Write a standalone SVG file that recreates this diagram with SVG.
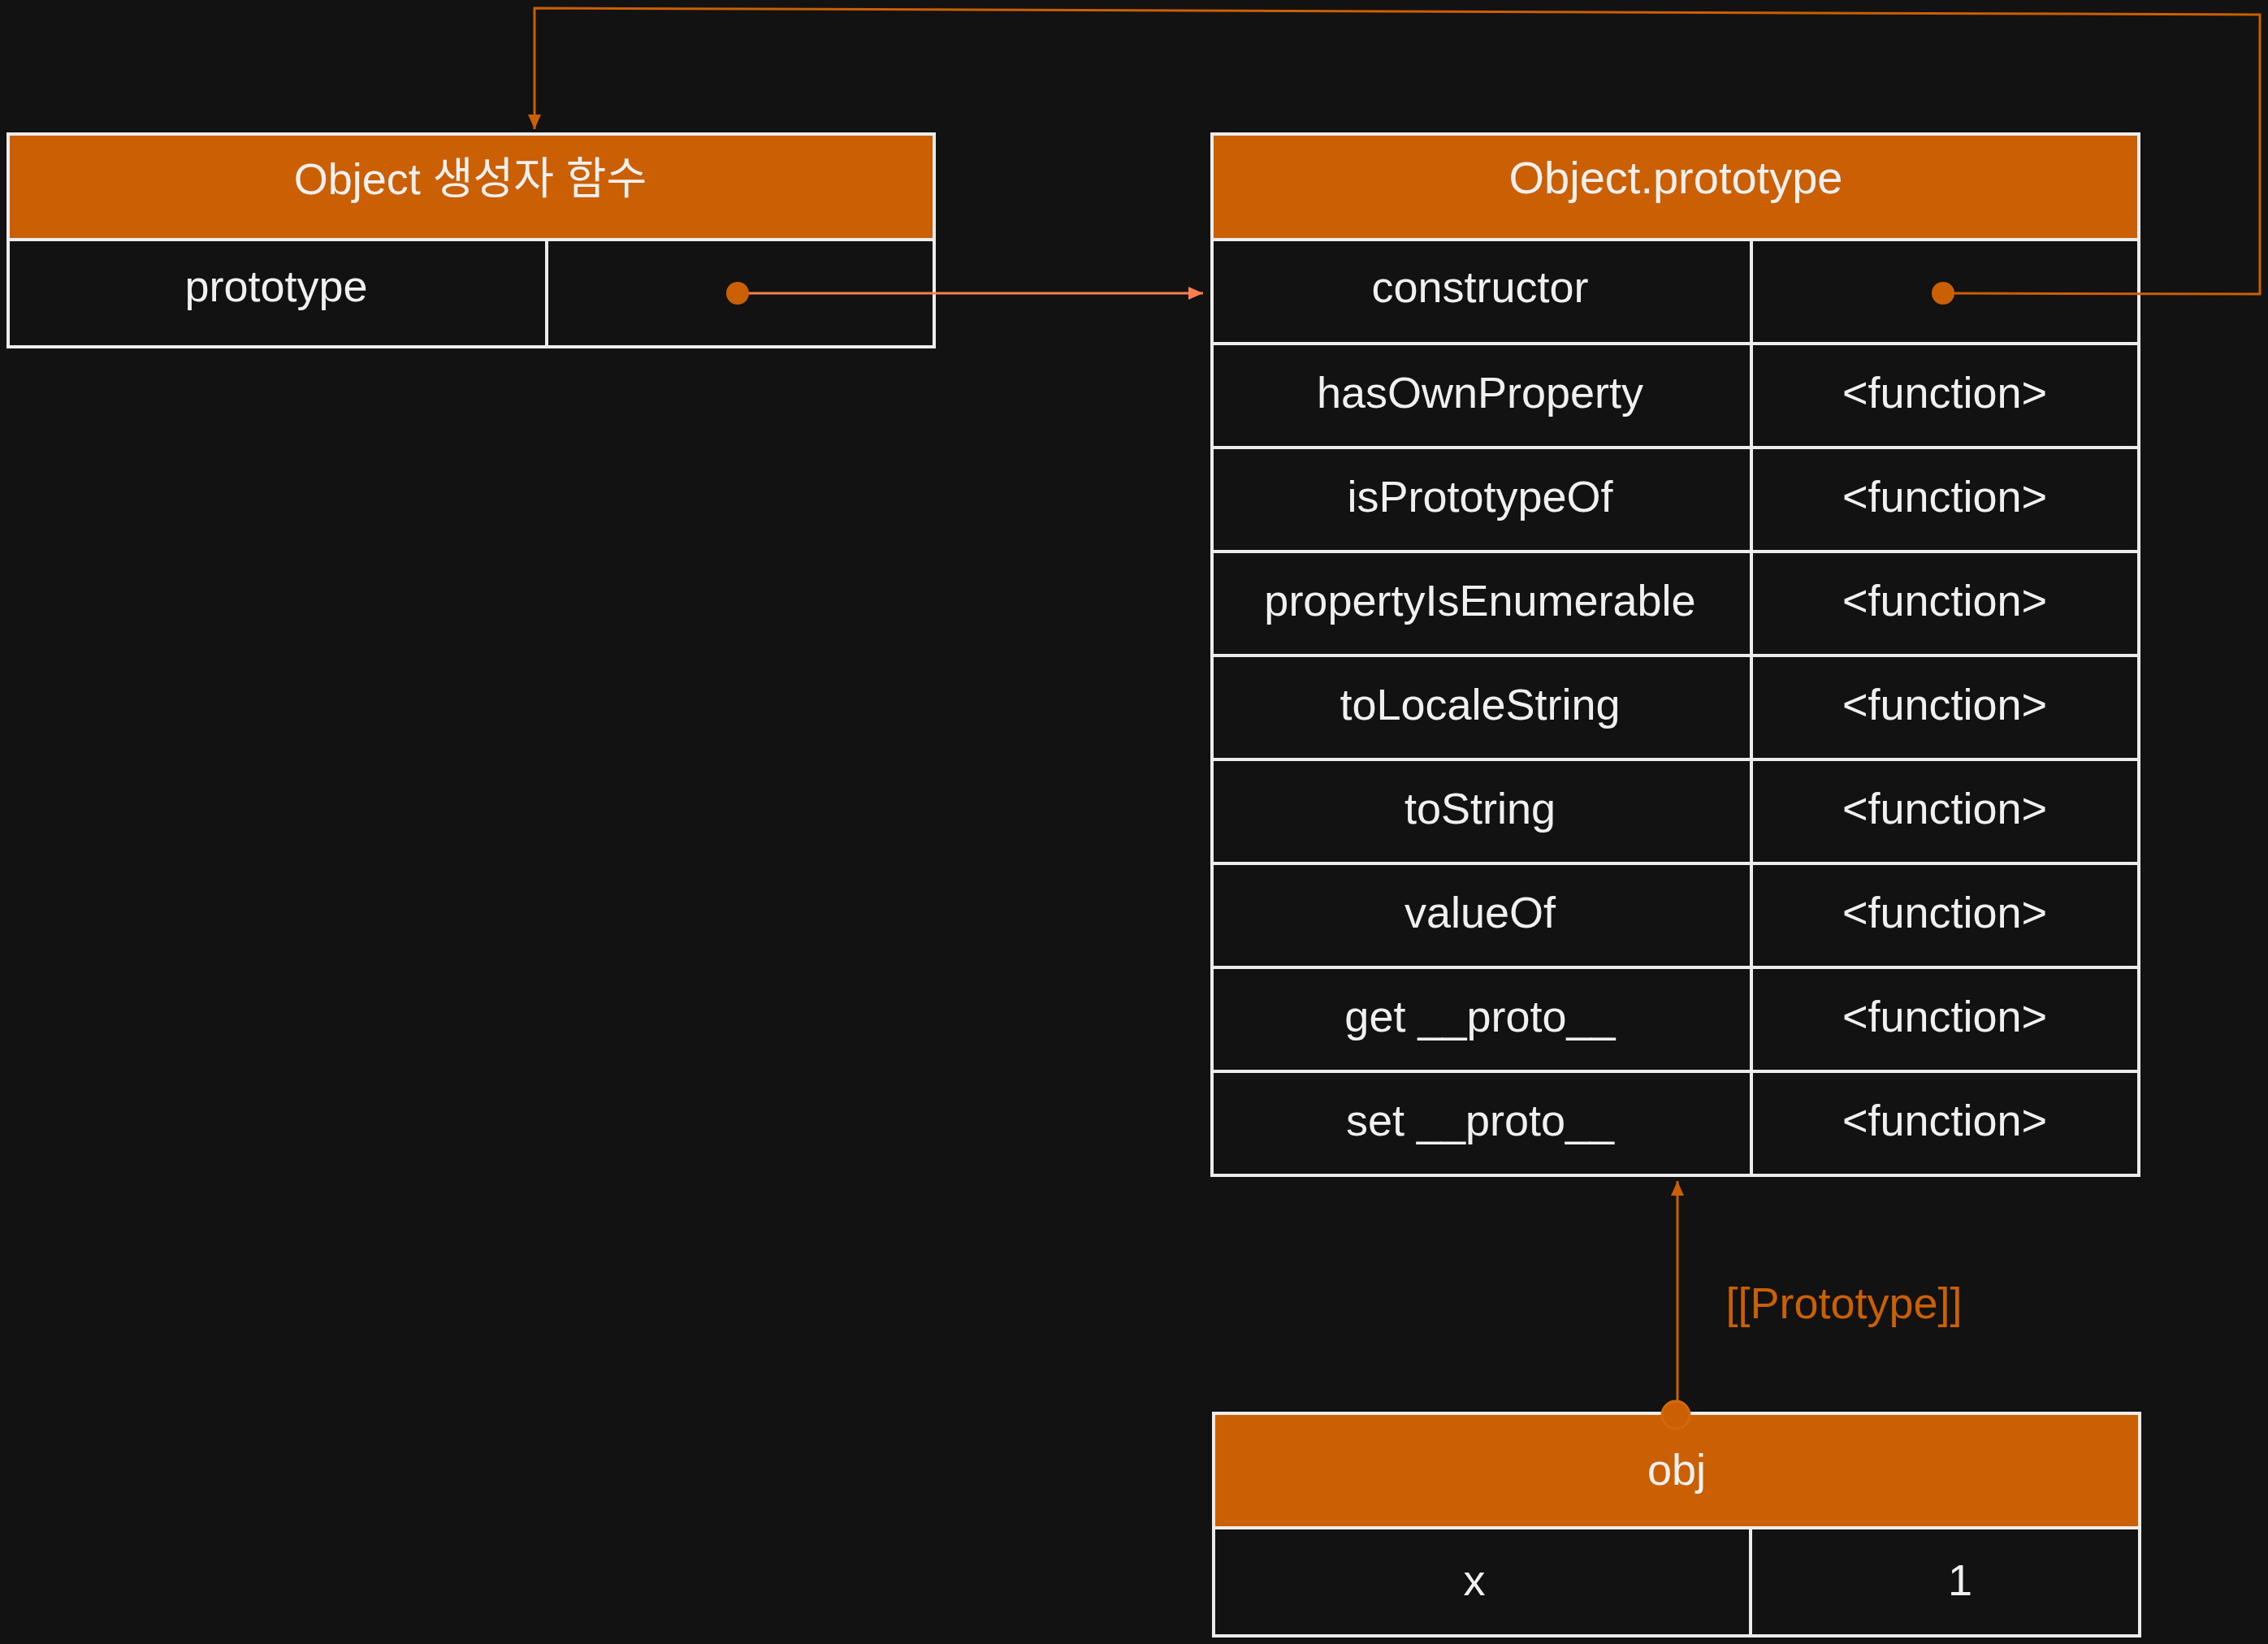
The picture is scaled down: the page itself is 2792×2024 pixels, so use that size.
<svg xmlns="http://www.w3.org/2000/svg" width="2792" height="2024" viewBox="0 0 2792 2024">
<defs>
<style>
.bg{fill:#121212}
.hdr{fill:#ca6003;stroke:#ececec;stroke-width:4}
.cell{fill:#121212;stroke:#ececec;stroke-width:4}
.t{font-family:"Liberation Sans","Noto Sans CJK KR",sans-serif;font-size:54px;fill:#f0f0f0;text-anchor:middle}
.hand{font-family:"Liberation Sans",sans-serif;font-size:56px;fill:#f0f0f0;text-anchor:middle}
.lbl{font-family:"Liberation Sans",sans-serif;font-size:54px;fill:#ca6003;text-anchor:middle}
.conn{fill:none;stroke-width:3;stroke-linejoin:miter}
</style>
<marker id="arrCoral" markerUnits="userSpaceOnUse" markerWidth="18" markerHeight="16" refX="18" refY="8" orient="auto">
<path d="M0,0 L18,8 L0,16 z" fill="#ff7f50"/>
</marker>
<marker id="arrOrange" markerUnits="userSpaceOnUse" markerWidth="18" markerHeight="16" refX="18" refY="8" orient="auto">
<path d="M0,0 L18,8 L0,16 z" fill="#ca6003"/>
</marker>
</defs>
<rect class="bg" x="0" y="0" width="2792" height="2024"/>

<g id="object-constructor">
<rect class="hdr" x="10" y="165" width="1140" height="130"/>
<text class="t" x="579" y="239">Object 생성자 함수</text>
<rect class="cell" x="10" y="295" width="663" height="132"/>
<text class="t" x="340" y="371">prototype</text>
<rect class="cell" x="673" y="295" width="477" height="132"/>
</g>

<g id="object-prototype">
<rect class="hdr" x="1492" y="165" width="1141" height="130"/>
<text class="hand" x="2063" y="238">Object.prototype</text>
<rect class="cell" x="1492" y="295" width="664" height="128"/>
<rect class="cell" x="2156" y="295" width="477" height="128"/>
<text class="t" x="1822" y="372">constructor</text>
<rect class="cell" x="1492" y="423" width="664" height="128"/>
<rect class="cell" x="2156" y="423" width="477" height="128"/>
<text class="t" x="1822" y="502">hasOwnProperty</text>
<text class="t" x="2394" y="502">&lt;function&gt;</text>
<rect class="cell" x="1492" y="551" width="664" height="128"/>
<rect class="cell" x="2156" y="551" width="477" height="128"/>
<text class="t" x="1822" y="630">isPrototypeOf</text>
<text class="t" x="2394" y="630">&lt;function&gt;</text>
<rect class="cell" x="1492" y="679" width="664" height="128"/>
<rect class="cell" x="2156" y="679" width="477" height="128"/>
<text class="t" x="1822" y="758">propertyIsEnumerable</text>
<text class="t" x="2394" y="758">&lt;function&gt;</text>
<rect class="cell" x="1492" y="807" width="664" height="128"/>
<rect class="cell" x="2156" y="807" width="477" height="128"/>
<text class="t" x="1822" y="886">toLocaleString</text>
<text class="t" x="2394" y="886">&lt;function&gt;</text>
<rect class="cell" x="1492" y="935" width="664" height="128"/>
<rect class="cell" x="2156" y="935" width="477" height="128"/>
<text class="t" x="1822" y="1014">toString</text>
<text class="t" x="2394" y="1014">&lt;function&gt;</text>
<rect class="cell" x="1492" y="1063" width="664" height="128"/>
<rect class="cell" x="2156" y="1063" width="477" height="128"/>
<text class="t" x="1822" y="1142">valueOf</text>
<text class="t" x="2394" y="1142">&lt;function&gt;</text>
<rect class="cell" x="1492" y="1191" width="664" height="128"/>
<rect class="cell" x="2156" y="1191" width="477" height="128"/>
<text class="t" x="1822" y="1270">get __proto__</text>
<text class="t" x="2394" y="1270">&lt;function&gt;</text>
<rect class="cell" x="1492" y="1319" width="664" height="128"/>
<rect class="cell" x="2156" y="1319" width="477" height="128"/>
<text class="t" x="1822" y="1398">set __proto__</text>
<text class="t" x="2394" y="1398">&lt;function&gt;</text>
</g>

<g id="obj">
<rect class="hdr" x="1494" y="1740" width="1140" height="141"/>
<text class="t" x="2064" y="1828">obj</text>
<rect class="cell" x="1494" y="1881" width="661" height="133"/>
<rect class="cell" x="2155" y="1881" width="479" height="133"/>
<text class="t" x="1815" y="1964">x</text>
<text class="t" x="2413" y="1964">1</text>
</g>

<g id="connectors">
<path class="conn" stroke="#ff7f50" d="M908,361 L1481,361" marker-end="url(#arrCoral)"/>
<circle cx="908" cy="361" r="14" fill="#ca6003"/>
<path class="conn" stroke="#ca6003" d="M2392,361 L2782,362 L2782,18 L658,10 L658,159" marker-end="url(#arrOrange)"/>
<circle cx="2392" cy="361" r="14" fill="#ca6003"/>
<path class="conn" stroke="#ca6003" d="M2065,1742 L2065,1454" marker-end="url(#arrOrange)"/>
<circle cx="2063" cy="1742" r="17" fill="#ca6003" stroke="#d2690c" stroke-width="3"/>
<text class="lbl" x="2270" y="1623">[[Prototype]]</text>
</g>
</svg>
